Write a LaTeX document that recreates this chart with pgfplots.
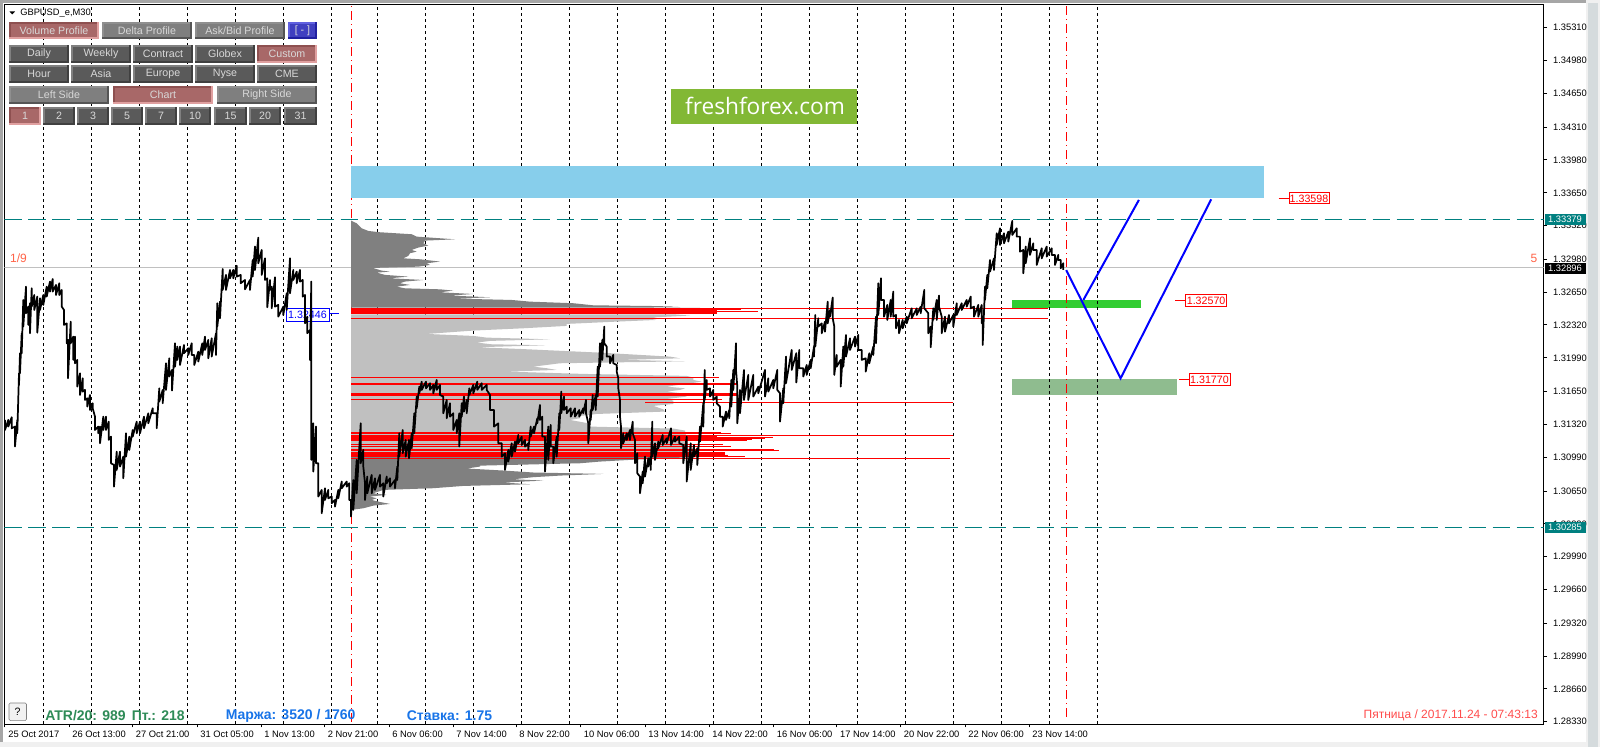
\documentclass[border=0pt]{standalone}
\usepackage{fontspec}
\usepackage{pgfplots}
\pgfplotsset{compat=1.18}
\setmainfont{Liberation Sans}
\newfontfamily\badgefont{Open Sans}
\definecolor{tealx}{HTML}{008080}
\definecolor{skyb}{HTML}{87CEEB}
\definecolor{limeg}{HTML}{32CD32}
\definecolor{seag}{HTML}{8FBC8F}
\definecolor{pgray}{HTML}{808080}
\definecolor{lgray}{HTML}{C0C0C0}
\definecolor{dface}{HTML}{5A5A5A}\definecolor{dtl}{HTML}{808080}\definecolor{dbr}{HTML}{404040}
\definecolor{mface}{HTML}{7F7F7F}\definecolor{mtl}{HTML}{8F8F8F}\definecolor{mbr}{HTML}{555555}
\definecolor{pface}{HTML}{A86868}\definecolor{ptl}{HTML}{8E5050}\definecolor{pbr}{HTML}{E0A0A0}
\definecolor{bface}{HTML}{4040C0}\definecolor{btl}{HTML}{6060E0}\definecolor{bbr}{HTML}{2020A0}
\definecolor{btxt}{HTML}{D8D8D8}
\definecolor{tom}{HTML}{FF6347}
\definecolor{atrg}{HTML}{2E8B57}
\definecolor{marg}{HTML}{1874E8}
\definecolor{badge}{HTML}{82B835}
\newcommand{\btn}[6]{%
 \fill[#6br] (#1,#2) rectangle (#3,#4);
 \fill[#6tl] (#1,#2) rectangle (#3-2,#4-2);
 \fill[#6face] (#1+2,#2+2) rectangle (#3-2,#4-2);
 \node[text=btxt,font=\fontsize{8}{9}\selectfont,inner sep=0pt] at ({(#1+#3)/2},{(#2+#4)/2}) {#5};}
\newcommand{\rlab}[6]{% x1 y1 x2 y2 tickstart text
 \draw[red,line width=0.75pt] (#5,{(#2+#4)/2}) -- (#1,{(#2+#4)/2});
 \draw[red,fill=white,line width=0.75pt] (#1,#2) rectangle (#3,#4);
 \node[text=red,font=\fontsize{8}{9}\selectfont,inner sep=0pt] at ({(#1+#3)/2},{(#2+#4)/2}) {#6};}
\begin{document}
\begin{tikzpicture}
\path[use as bounding box] (0,0) rectangle (1200pt,560.25pt);
\fill[white] (0,0) rectangle (1200pt,560.25pt);
\begin{scope}[x=0.75pt,y=-0.75pt,shift={(0pt,560.25pt)}]
\fill[gray!70] (0,0) rectangle (1600,3);
\fill[gray!70] (0,0) rectangle (3,747);
\fill[gray!12] (0,742) rectangle (1600,747);
\fill[gray!12] (1586,0) rectangle (1600,747);
\fill[blue!20!cyan!10!gray!30] (1588,3) rectangle (1598,747);
\end{scope}
\begin{axis}[
 at={(3.375pt,17.25pt)},anchor=south west,scale only axis,
 width=1154.4pt,height=539.6pt,
 xmin=4.5,xmax=1543.7,ymin=1.28306,ymax=1.35544,
 enlargelimits=false,unbounded coords=jump,
 axis line style={line width=0.75pt},
 tick align=outside,major tick length=2.5pt,
 tick style={black,line width=0.75pt},
 xtick pos=lower,ytick pos=right,yticklabel pos=right,
 xtick={5,69,132.6,197,261,324.5,389,453,516,580.6,645,709,773.5,836.7,900.5,965,1029},
 xticklabels={25 Oct 2017,26 Oct 13:00,27 Oct 21:00,31 Oct 05:00,1 Nov 13:00,2 Nov 21:00,6 Nov 06:00,7 Nov 14:00,8 Nov 22:00,10 Nov 06:00,13 Nov 14:00,14 Nov 22:00,16 Nov 06:00,17 Nov 14:00,20 Nov 22:00,22 Nov 06:00,23 Nov 14:00},
 ytick={1.35310,1.34980,1.34650,1.34310,1.33980,1.33650,1.33320,1.32980,1.32650,1.32320,1.31990,1.31650,1.31320,1.30990,1.30650,1.30320,1.29990,1.29660,1.29320,1.28990,1.28660,1.28330},
 scaled y ticks=false,
 yticklabel style={anchor=west,font=\fontsize{7}{8}\selectfont,xshift=1pt,/pgf/number format/.cd,fixed,fixed zerofill,precision=5,assume math mode=true},
 xticklabel style={anchor=north west,font=\fontsize{7}{8}\selectfont,xshift=-1pt,yshift=1pt},
 every axis plot/.append style={no markers},
]
% zones under the grid
\addplot[fill=limeg,draw=none] coordinates {(1011.9,1.32572)(1140.8,1.32572)(1140.8,1.32491)(1011.9,1.32491)} -- cycle;
\addplot[fill=seag,draw=none] coordinates {(1011.9,1.31777)(1177.2,1.31777)(1177.2,1.31616)(1011.9,1.31616)} -- cycle;
% time separators
\addplot[black,line width=0.75pt,dash pattern=on 2.25pt off 2.25pt] coordinates {(43.3,1.28306)(43.3,1.35544)(43.3,nan)(91.3,1.28306)(91.3,1.35544)(91.3,nan)(139.3,1.28306)(139.3,1.35544)(139.3,nan)(187.3,1.28306)(187.3,1.35544)(187.3,nan)(235.3,1.28306)(235.3,1.35544)(235.3,nan)(283.3,1.28306)(283.3,1.35544)(283.3,nan)(331.3,1.28306)(331.3,1.35544)(331.3,nan)(377.3,1.28306)(377.3,1.35544)(377.3,nan)(425.3,1.28306)(425.3,1.35544)(425.3,nan)(473.3,1.28306)(473.3,1.35544)(473.3,nan)(521.3,1.28306)(521.3,1.35544)(521.3,nan)(569.3,1.28306)(569.3,1.35544)(569.3,nan)(617.3,1.28306)(617.3,1.35544)(617.3,nan)(665.3,1.28306)(665.3,1.35544)(665.3,nan)(713.3,1.28306)(713.3,1.35544)(713.3,nan)(761.3,1.28306)(761.3,1.35544)(761.3,nan)(809.3,1.28306)(809.3,1.35544)(809.3,nan)(857.3,1.28306)(857.3,1.35544)(857.3,nan)(905.3,1.28306)(905.3,1.35544)(905.3,nan)(953.3,1.28306)(953.3,1.35544)(953.3,nan)(1001.3,1.28306)(1001.3,1.35544)(1001.3,nan)(1049.3,1.28306)(1049.3,1.35544)(1049.3,nan)(1097.3,1.28306)(1097.3,1.35544)};
% red period lines
\addplot[red,line width=0.75pt,dash pattern=on 6.5pt off 3pt on 1pt off 3pt] coordinates {(351,1.28330)(351,1.35544)};
\addplot[red,line width=0.75pt,dash pattern=on 6.5pt off 3pt on 1pt off 3pt] coordinates {(1066,1.28380)(1066,1.35544)};
% horizontal levels
\addplot[lgray,line width=0.75pt] coordinates {(4.5,1.32896)(1543.7,1.32896)};
\addplot[tealx,line width=0.75pt,dash pattern=on 13pt off 5pt] coordinates {(4.5,1.33379)(1543.7,1.33379)};
\addplot[tealx,line width=0.75pt,dash pattern=on 13pt off 5pt] coordinates {(4.5,1.30285)(1543.7,1.30285)};
\addplot[skyb,fill=skyb] coordinates {(351,1.33920)(1263.5,1.33920)(1263.5,1.33601)(351,1.33601)} -- cycle;
% volume profile
\addplot[fill=pgray,draw=none] coordinates {(351,1.33370)(356.7,1.33343)(361.7,1.33293)(368.3,1.33266)(380,1.33253)(411.7,1.33233)(416.7,1.33209)(455,1.33182)(425,1.33169)(423.3,1.33142)(428.3,1.33119)(418.3,1.33099)(411.7,1.33075)(416.7,1.33058)(410,1.33042)(408.3,1.33015)(403.3,1.32991)(420,1.32981)(440,1.32958)(426.7,1.32941)(430,1.32924)(418.3,1.32907)(373,1.32894)(381.7,1.32867)(390,1.32857)(376.7,1.32847)(385,1.32824)(408.3,1.32807)(390,1.32790)(423.3,1.32773)(405,1.32757)(400,1.32740)(410,1.32723)(396.7,1.32706)(405,1.32689)(440,1.32679)(453.3,1.32666)(440,1.32649)(473.3,1.32632)(450,1.32616)(490,1.32599)(456.7,1.32585)(511.7,1.32572)(530,1.32555)(573.3,1.32539)(593.3,1.32518)(678.3,1.32508)(643,1.32498)(700,1.32495)(351,1.32495)} -- cycle;
\addplot[fill=lgray,draw=none] coordinates {(351,1.32428)(673,1.32428)(690,1.32415)(656.7,1.32398)(650,1.32384)(656.7,1.32371)(616.7,1.32354)(566.7,1.32331)(566.7,1.32311)(523.3,1.32287)(473.3,1.32264)(450,1.32247)(426.7,1.32230)(473.3,1.32210)(486.7,1.32193)(550,1.32176)(490,1.32160)(476.7,1.32143)(491.7,1.32126)(545,1.32116)(476.7,1.32096)(520,1.32079)(563.3,1.32059)(600,1.32042)(640,1.32019)(670,1.32002)(680,1.31985)(623.3,1.31969)(685,1.31955)(560,1.31935)(546.7,1.31918)(533.3,1.31901)(546.7,1.31885)(556.7,1.31868)(506.7,1.31851)(583.3,1.31828)(686.7,1.31808)(693.3,1.31791)(693.3,1.31767)(701.7,1.31750)(666.7,1.31700)(685,1.31683)(680,1.31667)(666.7,1.31650)(681.7,1.31633)(686.7,1.31600)(666.7,1.31576)(673.3,1.31559)(673.3,1.31526)(653.3,1.31506)(663.3,1.31472)(665,1.31449)(596.7,1.31425)(580,1.31405)(580,1.31382)(570,1.31365)(588.3,1.31331)(590,1.31298)(673.3,1.31278)(685,1.31258)(690,1.30996)(351,1.30996)} -- cycle;
\addplot[fill=pgray,draw=none] coordinates {(351,1.30996)(706,1.30996)(666.7,1.30979)(630,1.30963)(600,1.30946)(580,1.30929)(480,1.30905)(480,1.30896)(466.7,1.30876)(503.3,1.30856)(533.3,1.30836)(603.3,1.30822)(560,1.30805)(533.3,1.30789)(513.3,1.30768)(543.3,1.30755)(503.3,1.30735)(530,1.30718)(463.3,1.30701)(433.3,1.30678)(383.3,1.30661)(373.3,1.30627)(386.7,1.30611)(370,1.30594)(376.7,1.30577)(371.7,1.30560)(378.3,1.30543)(390,1.30520)(373.3,1.30503)(363.3,1.30476)(351,1.30460)} -- cycle;
% red profile rows
\addplot[red,line width=4.7pt] coordinates {(351,1.32461)(716.7,1.32461)};
\addplot[red,line width=0.75pt] coordinates {(351,1.32488)(1048.3,1.32488)};
\addplot[red,line width=1pt] coordinates {(351,1.32481)(741,1.32481)};
\addplot[red,line width=1pt] coordinates {(351,1.32455)(758,1.32455)};
\addplot[red,line width=0.75pt] coordinates {(351,1.32381)(1048.3,1.32381)};
\addplot[red,line width=1pt] coordinates {(692,1.32388)(726,1.32388)};
\addplot[red,line width=0.75pt] coordinates {(351,1.31794)(719,1.31794)};
\addplot[red,line width=1.5pt] coordinates {(351,1.31730)(738,1.31730)};
\addplot[red,line width=2.3pt] coordinates {(351,1.31623)(738,1.31623)};
\addplot[red,line width=0.75pt] coordinates {(351,1.31573)(722,1.31573)};
\addplot[red,line width=0.75pt] coordinates {(645,1.31543)(953,1.31543)};
\addplot[red,line width=1.5pt] coordinates {(351,1.31232)(721,1.31232)};
\addplot[red,line width=0.75pt] coordinates {(351,1.31224)(731,1.31224)};
\addplot[red,line width=0.75pt] coordinates {(351,1.31211)(953,1.31211)};
\addplot[red,line width=4.2pt] coordinates {(351,1.31177)(716.7,1.31177)};
\addplot[red,line width=0.75pt] coordinates {(351,1.31191)(773,1.31191)};
\addplot[red,line width=0.75pt] coordinates {(351,1.31180)(765,1.31180)};
\addplot[red,line width=0.75pt] coordinates {(351,1.31171)(752,1.31171)};
\addplot[red,line width=0.75pt] coordinates {(351,1.31157)(747,1.31157)};
\addplot[red,line width=0.75pt] coordinates {(351,1.31120)(723,1.31120)};
\addplot[red,line width=0.75pt] coordinates {(351,1.31100)(731,1.31100)};
\addplot[red,line width=1pt] coordinates {(351,1.31070)(774,1.31070)};
\addplot[red,line width=0.75pt] coordinates {(351,1.31060)(779,1.31060)};
\addplot[red,line width=3pt] coordinates {(351,1.31020)(725,1.31020)};
\addplot[red,line width=0.75pt] coordinates {(351,1.31003)(728,1.31003)};
\addplot[red,line width=0.75pt] coordinates {(351,1.31000)(745,1.31000)};
\addplot[red,line width=0.75pt] coordinates {(351,1.30979)(950,1.30979)};
% price label for the blue level, under the price line
\draw[blue,line width=0.75pt] (axis cs:329,1.32439) -- (axis cs:339,1.32439);
\draw[blue,fill=white,line width=0.75pt] (axis cs:286,1.32485) rectangle (axis cs:329,1.32358);
\node[text=blue,font=\fontsize{8}{9}\selectfont,inner sep=0pt] at (axis cs:307.5,1.32421) {1.32446};
% price
\addplot[black,line width=1.3pt,line join=round] coordinates {
(5,1.31365)(5,1.31264)(8.3,1.31365)(8.3,1.31298)(11.7,1.31392)(11.7,1.31281)(15,1.31298)(15,1.31097)(17.3,1.31365)(17.3,1.31231)
(19,1.31834)(19,1.31717)(20,1.32036)(20,1.31834)(21.7,1.32237)(21.7,1.32036)(23.3,1.32572)(23.3,1.32304)(26,1.32706)(26,1.32438)
(28.3,1.32505)(28.3,1.32321)(30,1.32539)(30,1.32237)(31.7,1.32689)(31.7,1.32505)(34.3,1.32622)(34.3,1.32471)(37.3,1.32606)(37.3,1.32243)
(40,1.32589)(40,1.32471)(43.3,1.32622)(43.3,1.32522)(46.7,1.32706)(46.7,1.32606)(50,1.32757)(50,1.32656)(52.7,1.32783)(52.7,1.32656)
(56,1.32723)(56,1.32622)(59.3,1.32740)(59.3,1.32622)(61.7,1.32673)(61.7,1.32505)(64,1.32471)(64,1.32321)(66.7,1.32337)(66.7,1.32136)
(68,1.32170)(68,1.31784)(70.7,1.32354)(70.7,1.32136)(73.3,1.32203)(73.3,1.31969)(75,1.32203)(75,1.31935)(77.3,1.31969)(77.3,1.31700)
(80,1.31834)(80,1.31616)(82.7,1.31784)(82.7,1.31650)(85,1.31667)(85,1.31566)(87.3,1.31583)(87.3,1.31499)(90,1.31616)(90,1.31465)
(92.7,1.31533)(92.7,1.31482)(95,1.31398)(95,1.31264)(98.3,1.31298)(98.3,1.31231)(100,1.31298)(100,1.31130)(103.3,1.31398)(103.3,1.31264)
(106,1.31398)(106,1.31264)(108.7,1.31348)(108.7,1.31164)(111,1.31197)(111,1.30929)(114,1.30912)(114,1.30694)(116.7,1.31046)(116.7,1.30862)
(120,1.31046)(120,1.30896)(123.3,1.30996)(123.3,1.30778)(126,1.31231)(126,1.30996)(129.3,1.31197)(129.3,1.31063)(132.7,1.31264)(132.7,1.31197)
(136.7,1.31348)(136.7,1.31231)(140,1.31348)(140,1.31231)(144,1.31398)(144,1.31281)(148.3,1.31432)(148.3,1.31331)(152.7,1.31482)(152.7,1.31432)
(156.7,1.31432)(156.7,1.31281)(159.3,1.31683)(159.3,1.31549)(162.7,1.31667)(162.7,1.31533)(166,1.31935)(166,1.31667)(169.3,1.31985)(169.3,1.31801)
(172,1.31868)(172,1.31660)(175,1.32136)(175,1.31901)(177.3,1.32103)(177.3,1.31969)(180,1.32103)(180,1.31918)(184,1.32119)(184,1.32036)
(188.3,1.32086)(188.3,1.32019)(191.7,1.32136)(191.7,1.32019)(194.3,1.32019)(194.3,1.31918)(198.3,1.32052)(198.3,1.31952)(202.3,1.32136)(202.3,1.32019)
(205,1.32203)(205,1.32069)(208.3,1.32170)(208.3,1.31985)(211.7,1.32186)(211.7,1.32002)(216,1.32237)(216,1.32019)(217.3,1.32539)(217.3,1.32304)
(220,1.32555)(220,1.32388)(222.7,1.32884)(222.7,1.32673)(226,1.32824)(226,1.32673)(230,1.32874)(230,1.32790)(233.3,1.32874)(233.3,1.32790)
(236.7,1.32917)(236.7,1.32807)(240.7,1.32824)(240.7,1.32740)(245,1.32773)(245,1.32679)(250,1.32773)(250,1.32673)(252.7,1.32974)(252.7,1.32807)
(255,1.33109)(255,1.32874)(258.3,1.33199)(258.3,1.32941)(261.7,1.33075)(261.7,1.32824)(265,1.32991)(265,1.32773)(267.3,1.32790)(267.3,1.32498)
(270,1.32773)(270,1.32673)(271.7,1.32706)(271.7,1.32488)(275,1.32800)(275,1.32505)(278.3,1.32522)(278.3,1.32404)(283.3,1.32505)(283.3,1.32421)
(286.7,1.32639)(286.7,1.32471)(290,1.32991)(290,1.32639)(293.3,1.32874)(293.3,1.32773)(296.7,1.32857)(296.7,1.32740)(300,1.32874)(300,1.32757)
(302.7,1.32773)(302.7,1.32606)(305,1.32622)(305,1.32337)(307.3,1.32404)(307.3,1.32237)(310,1.32270)(310,1.31969)(311.3,1.32757)(311.3,1.30963)
(313.3,1.31331)(313.3,1.30845)(316,1.31298)(316,1.30929)(318.3,1.30929)(318.3,1.30594)(321.7,1.30661)(321.7,1.30426)(325,1.30678)(325,1.30560)
(328.3,1.30661)(328.3,1.30577)(331.7,1.30594)(331.7,1.30527)(335,1.30560)(335,1.30493)(338.3,1.30661)(338.3,1.30577)(341.7,1.30745)(341.7,1.30678)
(346.7,1.30745)(346.7,1.30694)(349.3,1.30728)(349.3,1.30560)(351,1.30560)(351,1.30393)
(353.3,1.30761)(353.3,1.30460)(356.7,1.30963)(356.7,1.30627)(360.7,1.31331)(360.7,1.30929)(363.3,1.31063)(363.3,1.30896)(365,1.30728)(365,1.30560)
(367.3,1.30795)(367.3,1.30627)(371.7,1.30812)(371.7,1.30627)(375,1.30778)(375,1.30661)(380,1.30812)(380,1.30694)(383.3,1.30728)(383.3,1.30594)
(386.7,1.30795)(386.7,1.30728)(390,1.30778)(390,1.30694)(395,1.30761)(395,1.30678)(397.3,1.30896)(397.3,1.30761)(399.3,1.31231)(399.3,1.30996)
(402.7,1.31264)(402.7,1.31030)(405.7,1.31164)(405.7,1.30996)(409,1.31164)(409,1.30979)(411.7,1.31231)(411.7,1.31080)(414.3,1.31432)(414.3,1.31231)
(416.7,1.31600)(416.7,1.31482)(419.3,1.31700)(419.3,1.31633)(421.7,1.31750)(421.7,1.31667)(426,1.31750)(426,1.31683)(430,1.31734)(430,1.31667)
(433.3,1.31717)(433.3,1.31633)(436.7,1.31767)(436.7,1.31667)(440,1.31717)(440,1.31616)(443.3,1.31600)(443.3,1.31432)(446.7,1.31566)(446.7,1.31382)
(450,1.31533)(450,1.31398)(453.3,1.31432)(453.3,1.31264)(456.7,1.31365)(456.7,1.31231)(459.3,1.31432)(459.3,1.31097)(461.7,1.31533)(461.7,1.31398)
(464,1.31600)(464,1.31449)(466.7,1.31566)(466.7,1.31432)(469.3,1.31683)(469.3,1.31616)(473.3,1.31717)(473.3,1.31633)(477.3,1.31750)(477.3,1.31667)
(481.7,1.31734)(481.7,1.31667)(486.7,1.31717)(486.7,1.31667)(490,1.31616)(490,1.31465)(494,1.31465)(494,1.31298)(498.3,1.31331)(498.3,1.31130)
(501.7,1.31130)(501.7,1.30996)(505,1.31030)(505,1.30862)(508.3,1.31063)(508.3,1.30946)(511.7,1.31130)(511.7,1.30996)(515,1.31147)(515,1.31046)
(518.3,1.31214)(518.3,1.31130)(521.7,1.31197)(521.7,1.31113)(525,1.31164)(525,1.31097)(528.3,1.31130)(528.3,1.31063)(530.7,1.31298)(530.7,1.31197)
(534,1.31298)(534,1.31231)(537.3,1.31382)(537.3,1.31331)(540,1.31516)(540,1.31365)(542.3,1.31398)(542.3,1.31197)(545,1.31197)(545,1.30845)
(548.3,1.31298)(548.3,1.30963)(550.7,1.31315)(550.7,1.31097)(553.3,1.31097)(553.3,1.30929)(556.7,1.31197)(556.7,1.30996)(559.3,1.31432)(559.3,1.31264)
(561.3,1.31650)(561.3,1.31432)(564,1.31600)(564,1.31465)(566.7,1.31499)(566.7,1.31432)(570.7,1.31482)(570.7,1.31398)(575,1.31482)(575,1.31398)
(579.3,1.31465)(579.3,1.31398)(583.3,1.31482)(583.3,1.31432)(586,1.31566)(586,1.31432)(588.3,1.31331)(588.3,1.31130)(590.7,1.31465)(590.7,1.31365)
(592.7,1.31616)(592.7,1.31465)(595.7,1.31616)(595.7,1.31465)(597.7,1.31901)(597.7,1.31600)(600,1.32136)(600,1.31901)(602.3,1.32170)(602.3,1.31969)
(604.3,1.32304)(604.3,1.32136)(606.7,1.32103)(606.7,1.32002)(610,1.32002)(610,1.31935)(613.3,1.32019)(613.3,1.31935)(616.7,1.31918)(616.7,1.31851)
(618.3,1.31784)(618.3,1.31683)(620,1.31566)(620,1.31398)(621,1.31298)(621,1.31080)(623.3,1.31231)(623.3,1.31130)(626.7,1.31231)(626.7,1.31164)
(630,1.31264)(630,1.31164)(632.7,1.31348)(632.7,1.31231)(635,1.31164)(635,1.30929)(637.3,1.31030)(637.3,1.30828)(640,1.30795)(640,1.30627)
(642.7,1.30845)(642.7,1.30728)(645,1.30996)(645,1.30795)(648.3,1.30979)(648.3,1.30896)(650.7,1.30996)(650.7,1.30862)(652.3,1.31348)(652.3,1.30996)
(655,1.31130)(655,1.30963)(658.3,1.31147)(658.3,1.31080)(662.7,1.31214)(662.7,1.31113)(666.7,1.31180)(666.7,1.31130)(671,1.31281)(671,1.31113)
(675,1.31197)(675,1.31147)(679.3,1.31197)(679.3,1.31130)(683.3,1.31113)(683.3,1.30929)(686.7,1.31197)(686.7,1.30745)(690.7,1.31130)(690.7,1.30862)
(694,1.31113)(694,1.30996)(697.3,1.31080)(697.3,1.30912)(700,1.31298)(700,1.31147)(703.3,1.31533)(703.3,1.31298)(704.7,1.31868)(704.7,1.31566)
(706.7,1.31767)(706.7,1.31667)(710,1.31683)(710,1.31600)(713.3,1.31667)(713.3,1.31566)(716.7,1.31600)(716.7,1.31533)(720,1.31499)(720,1.31398)
(722.7,1.31398)(722.7,1.31298)(726,1.31449)(726,1.31365)(729.3,1.31465)(729.3,1.31382)(731.3,1.31767)(731.3,1.31499)(733.3,1.31868)(733.3,1.31667)
(736,1.32136)(736,1.31868)(737.3,1.31700)(737.3,1.31331)(740,1.31667)(740,1.31432)(744,1.31868)(744,1.31566)(748.3,1.31818)(748.3,1.31566)
(753.3,1.31818)(753.3,1.31600)(758.3,1.31700)(758.3,1.31633)(765,1.31868)(765,1.31600)(768.3,1.31784)(768.3,1.31650)(773.3,1.31767)(773.3,1.31683)
(777.3,1.31868)(777.3,1.31667)(780,1.31633)(780,1.31348)(783.3,1.31683)(783.3,1.31533)(786,1.32002)(786,1.31734)(791.7,1.32069)(791.7,1.31868)
(796.3,1.32036)(796.3,1.31741)(799.3,1.32069)(799.3,1.31885)(803.3,1.31885)(803.3,1.31801)(806.7,1.31918)(806.7,1.31818)(810.7,1.31969)(810.7,1.31885)
(814,1.32103)(814,1.32002)(815.3,1.32421)(815.3,1.32103)(818.3,1.32388)(818.3,1.32304)(821.7,1.32337)(821.7,1.32237)(825,1.32354)(825,1.32253)
(827.7,1.32555)(827.7,1.32337)(830,1.32471)(830,1.32404)(832.7,1.32596)(832.7,1.32388)(834.3,1.32304)(834.3,1.31818)(836.7,1.32019)(836.7,1.31901)
(840.7,1.31969)(840.7,1.31700)(843.3,1.32103)(843.3,1.31901)(846,1.32220)(846,1.32002)(850,1.32186)(850,1.32069)(855,1.32203)(855,1.32103)
(858.3,1.32220)(858.3,1.32069)(861.7,1.32069)(861.7,1.31969)(865.7,1.31985)(865.7,1.31851)(869.3,1.32036)(869.3,1.31935)(873.3,1.32103)(873.3,1.32019)
(876,1.32404)(876,1.32136)(878.3,1.32740)(878.3,1.32421)(881,1.32790)(881,1.32572)(884,1.32572)(884,1.32404)(887.3,1.32522)(887.3,1.32371)
(890.7,1.32572)(890.7,1.32404)(893.3,1.32656)(893.3,1.32404)(896,1.32421)(896,1.32287)(899,1.32371)(899,1.32237)(902.7,1.32371)(902.7,1.32287)
(906.7,1.32404)(906.7,1.32337)(911.7,1.32488)(911.7,1.32388)(916.7,1.32488)(916.7,1.32421)(920.7,1.32505)(920.7,1.32438)(924.3,1.32673)(924.3,1.32488)
(928.3,1.32438)(928.3,1.32237)(930.7,1.32304)(930.7,1.32096)(933.3,1.32488)(933.3,1.32371)(936.7,1.32572)(936.7,1.32371)(939,1.32616)(939,1.32505)
(941.7,1.32404)(941.7,1.32237)(945,1.32404)(945,1.32253)(949,1.32421)(949,1.32337)(953.3,1.32421)(953.3,1.32304)(956.7,1.32539)(956.7,1.32421)
(961.7,1.32539)(961.7,1.32471)(966.7,1.32572)(966.7,1.32505)(970.7,1.32606)(970.7,1.32488)(974,1.32505)(974,1.32404)(978.3,1.32522)(978.3,1.32404)
(981.7,1.32522)(981.7,1.32337)(982.7,1.32337)(982.7,1.32119)(985,1.32706)(985,1.32572)(987.3,1.32824)(987.3,1.32689)(990,1.32974)(990,1.32857)
(994,1.32991)(994,1.32874)(996.7,1.33243)(996.7,1.33125)(1000,1.33293)(1000,1.33125)(1004,1.33243)(1004,1.33142)(1008.3,1.33259)(1008.3,1.33159)
(1012.3,1.33367)(1012.3,1.33226)(1016.7,1.33293)(1016.7,1.33209)(1020,1.33209)(1020,1.33058)(1023.3,1.33075)(1023.3,1.32840)(1025.7,1.33109)(1025.7,1.32941)
(1030,1.33192)(1030,1.33025)(1033.3,1.33142)(1033.3,1.33075)(1036.7,1.33075)(1036.7,1.32924)(1041.7,1.33092)(1041.7,1.32991)(1046.7,1.33109)(1046.7,1.33008)
(1051.7,1.33092)(1051.7,1.33025)(1055,1.33025)(1055,1.32924)(1058.3,1.33025)(1058.3,1.32974)(1060.7,1.32974)(1060.7,1.32891)(1063.3,1.32941)(1063.3,1.32874)
};
% scenarios
\addplot[blue,line width=1.5pt] coordinates {(1066.2,1.32873)(1120.6,1.31784)(1211.2,1.33585)};
\addplot[blue,line width=1.5pt] coordinates {(1083.4,1.32572)(1138.9,1.33578)};
\end{axis}
\begin{scope}[x=0.75pt,y=-0.75pt,shift={(0pt,560.25pt)}]
% badge
\fill[badge] (671,89) rectangle (857.3,124);
\node[text=white,inner sep=0pt,font=\badgefont\fontsize{17}{20}\selectfont] at (765,106) {freshforex.com};
% title
\fill[black] (9.5,11.5) -- (15,11.5) -- (12.2,14.5) -- cycle;
\node[anchor=west,inner sep=0pt,font=\fontsize{7}{8}\selectfont] at (20,12.7) {GBPUSD\_e,M30};
% buttons
\btn{9}{21.7}{99}{39}{Volume Profile}{p}
\btn{102}{21.7}{192}{39}{Delta Profile}{m}
\btn{195}{21.7}{285}{39}{Ask/Bid Profile}{m}
\btn{288}{21.7}{317}{39}{[ - ]}{b}
\btn{9}{45}{69}{63}{Daily}{d}
\btn{71}{45}{131}{63}{Weekly}{d}
\btn{133}{45}{193}{63}{Contract}{d}
\btn{195}{45}{255}{63}{Globex}{d}
\btn{257}{45}{317}{63}{Custom}{p}
\btn{9}{65}{69}{83}{Hour}{d}
\btn{71}{65}{131}{83}{Asia}{d}
\btn{133}{65}{193}{83}{Europe}{d}
\btn{195}{65}{255}{83}{Nyse}{d}
\btn{257}{65}{317}{83}{CME}{d}
\btn{9}{86}{109}{104}{Left Side}{m}
\btn{113}{86}{213}{104}{Chart}{p}
\btn{217}{86}{317}{104}{Right Side}{m}
\btn{9}{107}{41}{125}{1}{p}
\btn{43}{107}{75}{125}{2}{d}
\btn{77}{107}{109}{125}{3}{d}
\btn{111}{107}{143}{125}{5}{d}
\btn{145}{107}{177}{125}{7}{d}
\btn{179}{107}{211}{125}{10}{d}
\btn{214}{107}{247}{125}{15}{d}
\btn{249}{107}{281}{125}{20}{d}
\btn{284}{107}{317}{125}{31}{d}
% right-scale price boxes
\fill[tealx] (1544.6,214) rectangle (1585.6,225);
\node[text=white,inner sep=0pt,font=\fontsize{7}{8}\selectfont] at (1565,219.7) {1.33379};
\fill[tealx] (1544.6,522) rectangle (1585.6,533);
\node[text=white,inner sep=0pt,font=\fontsize{7}{8}\selectfont] at (1565,527.5) {1.30285};
\fill[black] (1544.6,263) rectangle (1585.6,274);
\node[text=white,inner sep=0pt,font=\fontsize{7}{8}\selectfont] at (1565,268.5) {1.32896};
% level tags
\rlab{1289}{193}{1329}{204}{1278.6}{1.33598}
\rlab{1185.6}{294.5}{1226.6}{306.5}{1175}{1.32570}
\rlab{1189}{374}{1230}{385.7}{1179}{1.31770}
% corner texts
\node[text=tom,inner sep=0pt,font=\fontsize{9}{10}\selectfont] at (18.5,258.7) {1/9};
\node[text=tom,inner sep=0pt,font=\fontsize{9}{10}\selectfont] at (1534,258.7) {5};
\draw[gray,fill=gray!10,rounded corners=1pt] (9,703) rectangle (26.5,720.7);
\node[inner sep=0pt,font=\fontsize{8}{9}\selectfont] at (17.7,712) {?};
\node[anchor=west,text=atrg,inner sep=0pt,font=\bfseries\fontsize{10.5}{12}\selectfont] at (45,715.7) {ATR/20: 989};
\node[anchor=west,text=atrg,inner sep=0pt,font=\bfseries\fontsize{10.5}{12}\selectfont] at (131.6,715.7) {Пт.: 218};
\node[anchor=west,text=marg,inner sep=0pt,font=\bfseries\fontsize{10.5}{12}\selectfont] at (225.5,715.7) {Маржа: 3520 / 1760};
\node[anchor=west,text=marg,inner sep=0pt,font=\bfseries\fontsize{10.5}{12}\selectfont] at (406.6,715.7) {Ставка: 1.75};
\node[anchor=east,text=red!70!white,inner sep=0pt,font=\fontsize{9}{10}\selectfont] at (1538,715) {Пятница / 2017.11.24 - 07:43:13};
\end{scope}
\end{tikzpicture}
\end{document}
